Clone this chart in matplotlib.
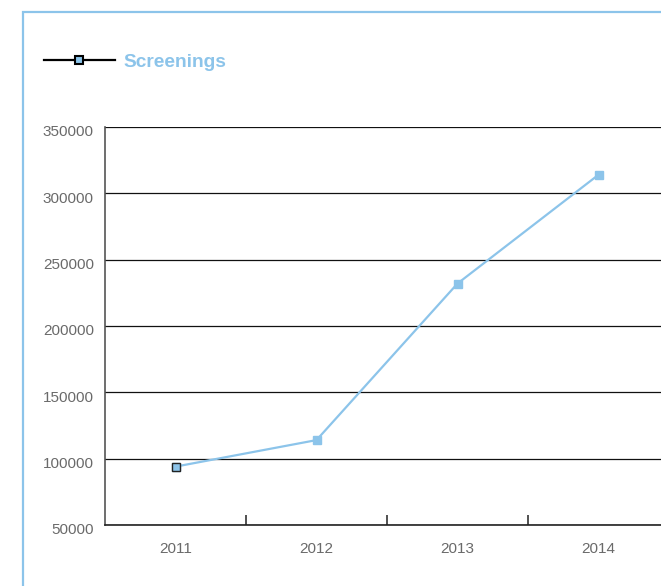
import matplotlib.pyplot as plt
from matplotlib.lines import Line2D
from matplotlib.patches import Rectangle
from matplotlib.transforms import ScaledTranslation

plt.rcParams['font.family'] = ['Liberation Sans', 'DejaVu Sans']

years = ['2011', '2012', '2013', '2014']
screenings = [94000, 114000, 232000, 314000]
y_ticks = [50000, 100000, 150000, 200000, 250000, 300000, 350000]

blue = '#8cc4ea'
W, H = 661, 586

fig = plt.figure(figsize=(W / 100, H / 100), dpi=100)

# light blue frame, cut off at right and bottom
fig.add_artist(Rectangle((23 / W, -0.2), 1.2, 1.2 - 12 / H, transform=fig.transFigure,
                         fill=False, edgecolor=blue, linewidth=1.6))

ax = fig.add_axes([105 / W, 61 / H, 564 / W, 398 / H])
x = list(range(len(years)))
ax.plot(x, screenings, color=blue, linewidth=1.6, marker='s', markersize=6,
        markerfacecolor=blue, markeredgecolor=blue, zorder=3)
ax.plot(x[0], screenings[0], marker='s', markersize=6, markerfacecolor=blue,
        markeredgecolor='#222222', markeredgewidth=1.0, linestyle='none', zorder=4)

ax.set_xlim(-0.5, 3.5)
ax.set_ylim(50000, 350000)
ax.set_yticks(y_ticks)
ax.set_yticklabels([str(v) for v in y_ticks])
ax.yaxis.grid(True, color='#111111', linewidth=0.9)
ax.set_axisbelow(True)

ax.set_xticks(x)
ax.set_xticklabels(years)
ax.set_xticks([0.5, 1.5, 2.5], minor=True)
ax.tick_params(axis='x', which='major', length=0, pad=12, labelsize=11, labelcolor='#6a6a6a')
ax.tick_params(axis='x', which='minor', direction='in', length=7, width=1.2, color='#333333')
ax.tick_params(axis='y', length=0, pad=8, labelsize=11, labelcolor='#6a6a6a')

# y labels sit a little below their lines
shift = ScaledTranslation(0, -4 / 100, fig.dpi_scale_trans)
for lbl in ax.get_yticklabels():
    lbl.set_transform(lbl.get_transform() + shift)

for s in ['top', 'right']:
    ax.spines[s].set_visible(False)
ax.spines['left'].set_color('#555555')
ax.spines['left'].set_linewidth(1.2)
ax.spines['bottom'].set_color('#222222')
ax.spines['bottom'].set_linewidth(1.2)

handle = Line2D([], [], color='black', linewidth=1.6, marker='s', markersize=6,
                markerfacecolor=blue, markeredgecolor='black', markeredgewidth=1.5)
leg = ax.legend([handle], ['Screenings'], loc='center left',
                bbox_to_anchor=(44 / W, (H - 62) / H), bbox_transform=fig.transFigure,
                frameon=False, borderpad=0, borderaxespad=0, handlelength=3.7,
                handletextpad=0.45, prop={'weight': 'bold', 'size': 13.8}, labelcolor=blue)

fig.savefig('out.png', dpi=100)
